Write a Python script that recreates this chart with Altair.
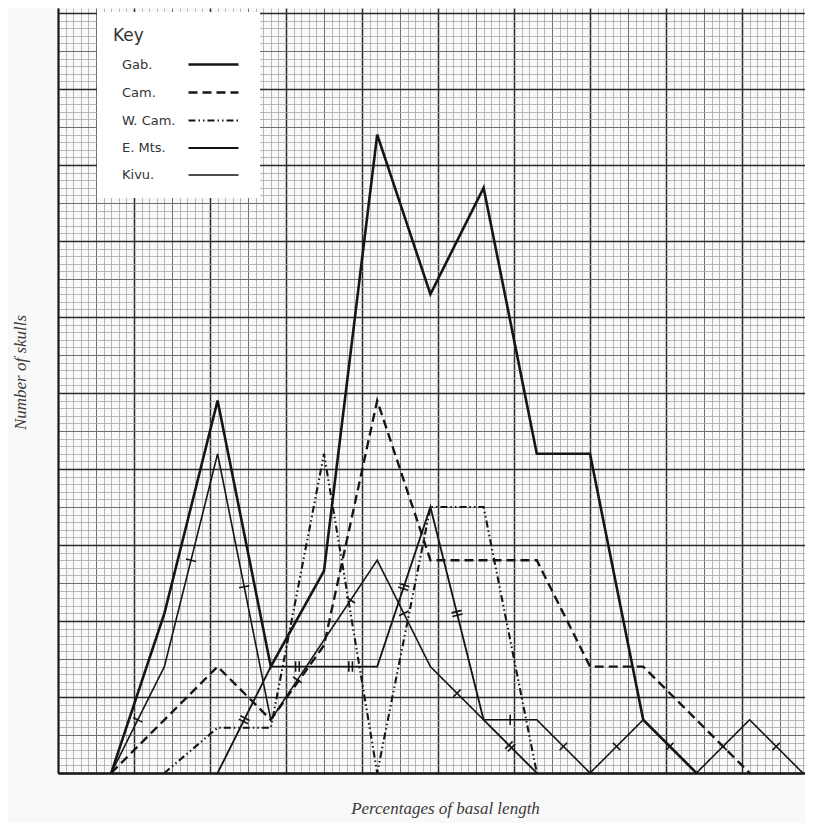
import math
import altair as alt
import pandas as pd

# ---- data (x = successive percentage bins, y = number of skulls)
bins = list(range(14))
gab  = [0, 3, 7, 2, 3.8, 12, 9, 11, 6, 6, 1, 0, None, None]
cam  = [0, 1, 2, 1, 2.4, 7, 4, 4, 4, 2, 2, 1, 0, None]
wcam = [None, 0, 0.85, 0.85, 6, 0, 5, 5, 0, None, None, None, None, None]
emts = [None, None, 0, 2, 2, 2, 5, 1, 0, None, None, None, None, None]
kivu = [0, 2, 6, 1, 2.5, 4, 2, 1, 1, 0, 1, 0, 1, 0]
series_names = ["Gab.", "Cam.", "W. Cam.", "E. Mts.", "Kivu."]
series_vals = [gab, cam, wcam, emts, kivu]

rows = []
for name, vals in zip(series_names, series_vals):
    for k, v in zip(bins, vals):
        if v is not None:
            rows.append({"series": name, "k": k, "count": v})
df = pd.DataFrame(rows)

# tick marks (one per segment) for the two "ticked" solid lines
tick_rows = []
for name, vals in zip(series_names, series_vals):
    if name not in ("E. Mts.", "Kivu."):
        continue
    pts = [(k, v) for k, v in zip(bins, vals) if v is not None]
    for (k1, v1), (k2, v2) in zip(pts[:-1], pts[1:]):
        ang = math.degrees(math.atan2(-(v2 - v1), (k2 - k1))) % 360
        tick_rows.append({"series": name, "k": (k1 + k2) / 2, "count": (v1 + v2) / 2, "angle": ang})
ticks = pd.DataFrame(tick_rows)

# graph-paper: 7 small squares per unit on both axes
x_grid = [m / 7 - 1 for m in range(0, 99)]
y_grid = [m / 7 for m in range(0, 101)]

def grid_color(expr):
    return {"condition": [
        {"test": f"abs({expr}/10 - round({expr}/10)) < 0.01", "value": "#2a2a2a"},
        {"test": f"abs({expr}/5 - round({expr}/5)) < 0.01", "value": "#6e6e6e"}],
        "value": "#a6a6a6"}

def grid_width(expr):
    return {"condition": [
        {"test": f"abs({expr}/10 - round({expr}/10)) < 0.01", "value": 1.5},
        {"test": f"abs({expr}/5 - round({expr}/5)) < 0.01", "value": 1.0}],
        "value": 0.8}

xexpr = "(7*(datum.value+1))"
yexpr = "(7*datum.value)"

title_font = "Liberation Serif"

x_enc = alt.X("k:Q", scale=alt.Scale(domain=[-1, 13.041], nice=False, zero=False),
              axis=alt.Axis(values=x_grid, tickCount=500, labels=False, ticks=False, grid=True,
                            gridColor=grid_color(xexpr), gridWidth=grid_width(xexpr),
                            domain=True, domainColor="#1a1a1a", domainWidth=2.5,
                            title="Percentages of basal length", titleFont=title_font,
                            titleFontStyle="italic", titleFontWeight="normal", titleFontSize=17,
                            titleColor="#3a3a3a", titleX=387, titleY=35,
                            titleBaseline="middle", titleAlign="center"))
y_enc = alt.Y("count:Q", scale=alt.Scale(domain=[0, 14.38], nice=False, zero=False),
              axis=alt.Axis(values=y_grid, tickCount=500, labels=False, ticks=False, grid=True,
                            gridColor=grid_color(yexpr), gridWidth=grid_width(yexpr),
                            domain=True, domainColor="#1a1a1a", domainWidth=2,
                            title="Number of skulls", titleFont=title_font,
                            titleFontStyle="italic", titleFontWeight="normal", titleFontSize=17,
                            titleColor="#3a3a3a", titleX=-38, titleY=364,
                            titleBaseline="middle", titleAlign="center"))

lines = alt.Chart(df).mark_line(color="#151515", strokeJoin="miter").encode(
    x=x_enc,
    y=y_enc,
    order="k:Q",
    strokeDash=alt.StrokeDash(
        "series:N",
        scale=alt.Scale(domain=series_names,
                        range=[[1, 0], [9, 5], [7, 3, 1.5, 3, 1.5, 3], [1, 0], [1, 0]]),
        legend=alt.Legend(title="Key", orient="none", legendX=39, legendY=4,
                          fillColor="white", padding=16, symbolType="M-2.5,0L2.5,0",
                          symbolSize=400, symbolStrokeWidth=1.6, symbolStrokeColor="#151515",
                          symbolFillColor="transparent",
                          symbolOffset=89, labelOffset={"expr": "-103"}, labelFont="DejaVu Sans",
                          labelFontSize=13, labelColor="#333333", titleFont="DejaVu Sans",
                          titleFontSize=17, titleFontWeight="normal", titleColor="#333333",
                          titlePadding=8, rowPadding=9)),
    strokeWidth=alt.StrokeWidth("series:N",
                                scale=alt.Scale(domain=series_names, range=[2.6, 1.6, 1.6, 1.6, 1.6]),
                                legend=None),
)

tick_marks = alt.Chart(ticks).mark_point(filled=False, color="#151515", strokeWidth=1.6, size=110,
                                         opacity=1).encode(
    x="k:Q",
    y="count:Q",
    angle=alt.Angle("angle:Q", scale=None),
    shape=alt.Shape("series:N",
                    scale=alt.Scale(domain=["E. Mts.", "Kivu."],
                                    range=["M-0.35,-1L-0.35,1M0.35,-1L0.35,1", "M0,-1L0,1"]),
                    legend=None),
)

chart = alt.layer(lines, tick_marks).properties(
    width=747, height=765,
    autosize=alt.AutoSizeParams(type="none"),
    padding={"left": 50, "top": 0, "right": 0, "bottom": 50},
    background="#f9f9f9",
).configure_view(stroke=None)

chart.save("out.html", embed_options={"renderer": "svg", "actions": False})
